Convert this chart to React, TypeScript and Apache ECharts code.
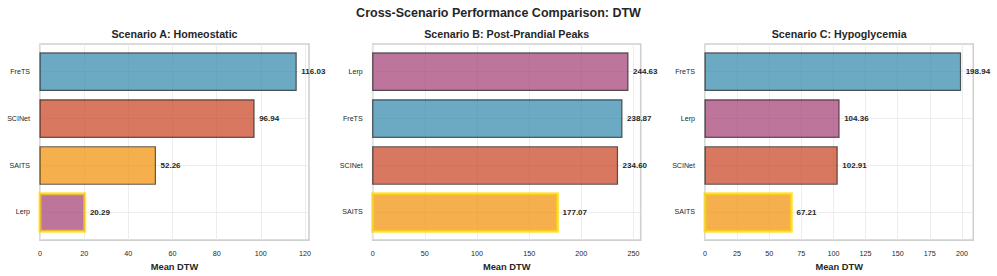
import React, { useEffect, useRef } from "react";
import * as echarts from "echarts";

const MAIN_TITLE = "Cross-Scenario Performance Comparison: DTW";
const PANEL_TITLES = ["Scenario A: Homeostatic", "Scenario B: Post-Prandial Peaks", "Scenario C: Hypoglycemia"];
const X_NAME = "Mean DTW";

const catsA = ["FreTS", "SCINet", "SAITS", "Lerp"];
const valsA = [116.03, 96.94, 52.26, 20.29];
const catsB = ["Lerp", "FreTS", "SCINet", "SAITS"];
const valsB = [244.63, 238.87, 234.6, 177.07];
const catsC = ["FreTS", "Lerp", "SCINet", "SAITS"];
const valsC = [198.94, 104.36, 102.91, 67.21];

const ticksA = [0, 20, 40, 60, 80, 100, 120];
const ticksB = [0, 50, 100, 150, 200, 250];
const ticksC = [0, 25, 50, 75, 100, 125, 150, 175, 200];

const METHOD_COLORS: Record<string, string> = {
  FreTS: "#2E86AB",
  SCINet: "#C73E1D",
  SAITS: "#F18F01",
  Lerp: "#A23B72",
};

const FONT = "'Liberation Sans', Arial, Helvetica, sans-serif";
const TEXT = "#262626";

function rgba(hex: string, a: number) {
  const n = parseInt(hex.slice(1), 16);
  return `rgba(${(n >> 16) & 255},${(n >> 8) & 255},${n & 255},${a})`;
}

const panels = [
  { cats: catsA, vals: valsA, ticks: ticksA, left: 40, width: 269 },
  { cats: catsB, vals: valsB, ticks: ticksB, left: 372.7, width: 268 },
  { cats: catsC, vals: valsC, ticks: ticksC, left: 705, width: 268.3 },
];

const GRID_TOP = 44;
const GRID_H = 197;

export default function App() {
  const ref = useRef<HTMLDivElement>(null);
  useEffect(() => {
    if (!ref.current) return;
    const chart = echarts.init(ref.current, undefined, { renderer: "svg" });
    const grids: any[] = [];
    const xAxes: any[] = [];
    const yAxes: any[] = [];
    const series: any[] = [];
    const graphics: any[] = [
      {
        type: "text",
        x: 498.5,
        y: 12.5,
        style: {
          text: MAIN_TITLE,
          font: `bold 12.5px ${FONT}`,
          fill: TEXT,
          textAlign: "center",
          textVerticalAlign: "middle",
        },
      },
    ];
    panels.forEach((p, i) => {
      const maxV = Math.max(...p.vals);
      const minV = Math.min(...p.vals);
      const xMax = maxV * 1.05;
      grids.push({
        left: p.left,
        top: GRID_TOP,
        width: p.width,
        height: GRID_H,
        show: true,
        backgroundColor: "#ffffff",
        borderColor: "#d0d0d0",
        borderWidth: 1.6,
      });
      graphics.push({
        type: "text",
        x: p.left + p.width / 2,
        y: 33.5,
        style: {
          text: PANEL_TITLES[i],
          font: `bold 10.7px ${FONT}`,
          fill: TEXT,
          textAlign: "center",
          textVerticalAlign: "middle",
        },
      });
      xAxes.push({
        type: "value",
        gridIndex: i,
        min: 0,
        max: xMax,
        name: X_NAME,
        nameLocation: "middle",
        nameGap: 20,
        nameTextStyle: { fontFamily: FONT, fontWeight: "bold", fontSize: 9.3, color: TEXT },
        axisLine: { show: false },
        axisTick: { show: false, customValues: p.ticks },
        axisLabel: {
          customValues: p.ticks,
          fontFamily: FONT,
          fontSize: 7.2,
          color: TEXT,
          margin: 10,
        },
        splitLine: { show: true, lineStyle: { color: "#e8e8e8", width: 0.8 } },
      });
      const idxs = p.cats.map((_, k) => k);
      yAxes.push({
        type: "value",
        gridIndex: i,
        inverse: true,
        min: -0.59,
        max: 3.59,
        axisLine: { show: false },
        axisTick: { show: false, customValues: idxs },
        axisLabel: {
          customValues: idxs,
          formatter: (v: number) => p.cats[Math.round(v)] ?? "",
          fontFamily: FONT,
          fontSize: 7.1,
          color: TEXT,
          margin: 10,
        },
        splitLine: { show: true, lineStyle: { color: "#e8e8e8", width: 0.8 } },
      });
      series.push({
        type: "custom",
        xAxisIndex: i,
        yAxisIndex: i,
        data: p.vals.map((v, k) => [v, k]),
        encode: { x: 0, y: 1 },
        clip: false,
        renderItem: (params: any, api: any) => {
          const v = api.value(0);
          const k = api.value(1);
          const cat = p.cats[k];
          const start = api.coord([0, k]);
          const end = api.coord([v, k]);
          const h = api.size([0, 0.8])[1];
          const lab = api.coord([v + maxV * 0.02, k]);
          const best = v === minV;
          return {
            type: "group",
            children: [
              {
                type: "rect",
                shape: { x: start[0], y: start[1] - h / 2, width: end[0] - start[0], height: h },
                style: {
                  fill: rgba(METHOD_COLORS[cat], 0.7),
                  stroke: best ? "rgba(255,215,0,0.7)" : "rgba(0,0,0,0.6)",
                  lineWidth: best ? 3 : 1.2,
                },
              },
              {
                type: "text",
                x: lab[0],
                y: lab[1],
                style: {
                  text: v.toFixed(2),
                  font: `bold 8px ${FONT}`,
                  fill: TEXT,
                  textAlign: "left",
                  textVerticalAlign: "middle",
                },
              },
            ],
          };
        },
      });
    });
    chart.setOption({
      animation: false,
      backgroundColor: "#ffffff",
      grid: grids,
      xAxis: xAxes,
      yAxis: yAxes,
      series,
      graphic: graphics,
    });
    return () => chart.dispose();
  }, []);
  return (
    <div
      ref={ref}
      style={{ position: "fixed", left: 0, top: 0, width: 997, height: 276, background: "#fff" }}
    />
  );
}
